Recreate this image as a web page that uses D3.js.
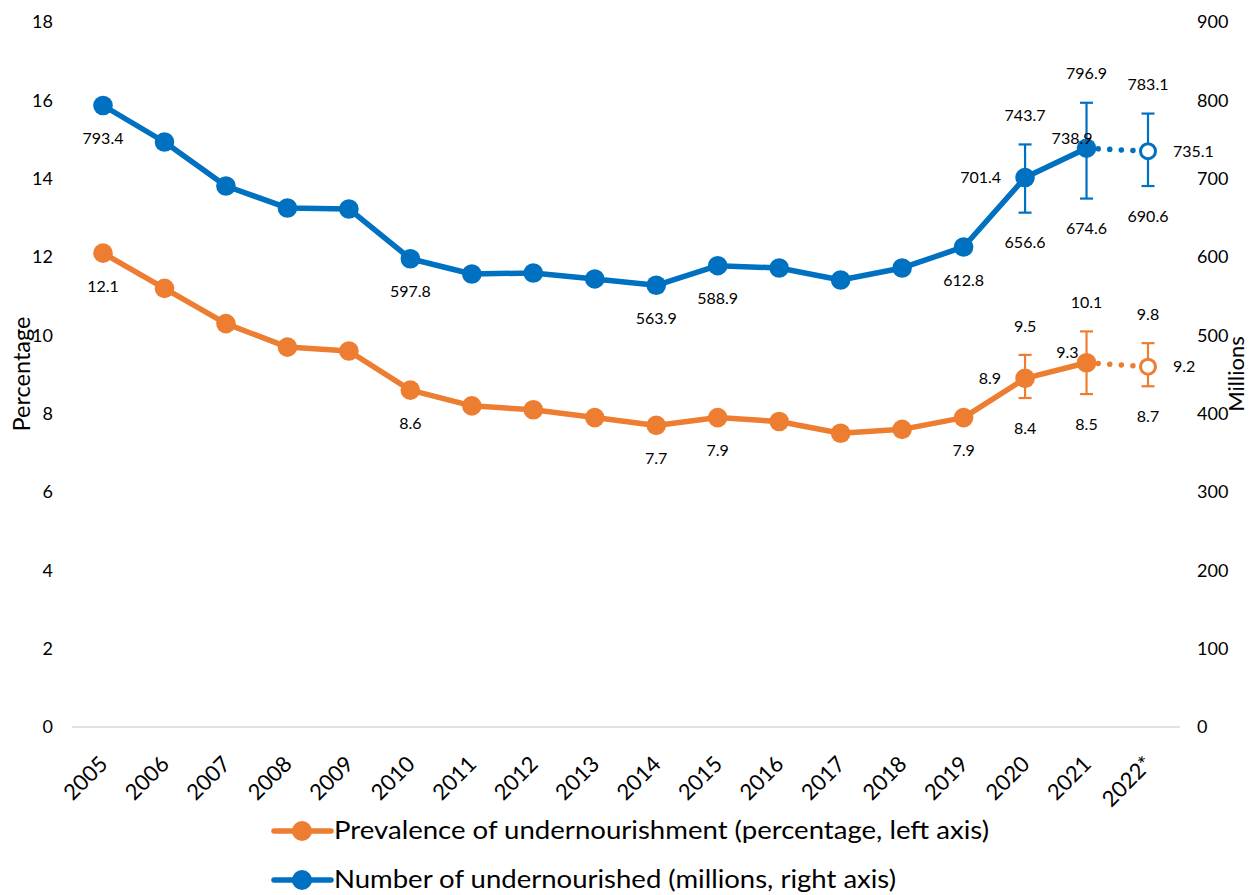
<!DOCTYPE html>
<html><head><meta charset="utf-8">
<script src="https://cdn.jsdelivr.net/npm/d3@7"></script>
<style>
html,body{margin:0;padding:0;background:#fff;}
svg{display:block;font-family:Lato,"Open Sans",sans-serif;}
</style></head>
<body><svg id="c" width="1249" height="895"></svg>
<script>
const years = ["2005","2006","2007","2008","2009","2010","2011","2012","2013","2014","2015","2016","2017","2018","2019","2020","2021","2022*"];
const prevalence = [12.1,11.2,10.3,9.7,9.6,8.6,8.2,8.1,7.9,7.7,7.9,7.8,7.5,7.6,7.9,8.9,9.3,9.2];
const prevalenceLow  = [null,null,null,null,null,null,null,null,null,null,null,null,null,null,null,8.4,8.5,8.7];
const prevalenceHigh = [null,null,null,null,null,null,null,null,null,null,null,null,null,null,null,9.5,10.1,9.8];
const number = [793.4,746.8,690.6,662.6,661.3,597.8,578.3,579.6,572.0,563.9,588.9,586.0,570.6,586.0,612.8,701.4,738.9,735.1];
const numberLow  = [null,null,null,null,null,null,null,null,null,null,null,null,null,null,null,656.6,674.6,690.6];
const numberHigh = [null,null,null,null,null,null,null,null,null,null,null,null,null,null,null,743.7,796.9,783.1];
const leftTicks = [0,2,4,6,8,10,12,14,16,18];
const rightTicks = [0,100,200,300,400,500,600,700,800,900];
// which points carry a value label and where
const prevLabelPos = {0:"below",5:"below",9:"below",10:"below",14:"below",15:"left",16:"aboveLeft",17:"right"};
const numLabelPos  = {0:"below",5:"below",9:"below",10:"below",14:"below",15:"left",16:"aboveLeftWide",17:"right"};
const legendItems = ["Prevalence of undernourishment (percentage, left axis)","Number of undernourished (millions, right axis)"];

const ORANGE="#ED7D31", BLUE="#0070C0";
const LBL=16;
const svg=d3.select("#c");
const x=d3.scalePoint().domain(years).range([103,1148]);
const yL=d3.scaleLinear().domain([0,18]).range([727,22]);
const yR=d3.scaleLinear().domain([0,900]).range([727,22]);

// baseline
svg.append("line").attr("x1",72).attr("x2",1180).attr("y1",yL(0)).attr("y2",yL(0))
  .attr("stroke","#d9d9d9").attr("stroke-width",1.5);

// axes
const axL=d3.axisLeft(yL).tickValues(leftTicks).tickSize(0).tickPadding(0);
const gL=svg.append("g").attr("transform","translate(53,0)").call(axL);
gL.select(".domain").remove();
gL.selectAll("text").attr("font-size",18).attr("fill","#000").attr("font-family","Lato,sans-serif");
const axR=d3.axisRight(yR).tickValues(rightTicks).tickSize(0).tickPadding(0);
const gR=svg.append("g").attr("transform","translate(1197,0)").call(axR);
gR.select(".domain").remove();
gR.selectAll("text").attr("font-size",18).attr("fill","#000").attr("font-family","Lato,sans-serif");

const axX=d3.axisBottom(x).tickSize(0).tickPadding(0);
const gX=svg.append("g").attr("transform","translate(0,760)").call(axX);
gX.select(".domain").remove();
gX.selectAll("text").attr("font-size",22).attr("fill","#000").attr("font-family","Lato,sans-serif")
  .attr("text-anchor","end").attr("dy","0.35em").attr("transform","rotate(-45)");

// axis titles
svg.append("text").attr("transform","translate(30,374) rotate(-90)").attr("text-anchor","middle")
  .attr("font-size",23.5).text("Percentage");
svg.append("text").attr("transform","translate(1244,374) rotate(-90)").attr("text-anchor","middle")
  .attr("font-size",22).text("Millions");

function drawSeries(vals,lo,hi,y,color,labelPos){
  const solid=vals.slice(0,17).map((v,i)=>[x(years[i]),y(v)]);
  svg.append("path").attr("d",d3.line()(solid)).attr("fill","none").attr("stroke",color)
    .attr("stroke-width",5.5).attr("stroke-linejoin","round");
  svg.append("path").attr("d",d3.line()([[x(years[16]),y(vals[16])],[x(years[17]),y(vals[17])]]))
    .attr("fill","none").attr("stroke",color).attr("stroke-width",5.5)
    .attr("stroke-linecap","round").attr("stroke-dasharray","0.1 11.5");
  // error bars
  vals.forEach((v,i)=>{
    if(lo[i]==null) return;
    const cx=x(years[i]);
    const g=svg.append("g").attr("stroke",color).attr("stroke-width",2.2);
    g.append("line").attr("x1",cx).attr("x2",cx).attr("y1",y(lo[i])).attr("y2",y(hi[i]));
    g.append("line").attr("x1",cx-6.5).attr("x2",cx+6.5).attr("y1",y(lo[i])).attr("y2",y(lo[i]));
    g.append("line").attr("x1",cx-6.5).attr("x2",cx+6.5).attr("y1",y(hi[i])).attr("y2",y(hi[i]));
    svg.append("text").attr("x",cx).attr("y",y(hi[i])-29).attr("text-anchor","middle").attr("dy","0.35em")
      .attr("font-size",LBL).text(hi[i].toFixed(1));
    svg.append("text").attr("x",cx).attr("y",y(lo[i])+30).attr("text-anchor","middle").attr("dy","0.35em")
      .attr("font-size",LBL).text(lo[i].toFixed(1));
  });
  vals.forEach((v,i)=>{
    const c=svg.append("circle").attr("cx",x(years[i])).attr("cy",y(v));
    if(i===17) c.attr("r",7.5).attr("fill","#fff").attr("stroke",color).attr("stroke-width",3);
    else c.attr("r",9.8).attr("fill",color);
  });
  Object.entries(labelPos).forEach(([k,pos])=>{
    const i=+k, cx=x(years[i]), cy=y(vals[i]);
    const t=svg.append("text").attr("font-size",LBL).attr("dy","0.35em").text(vals[i].toFixed(1));
    if(pos==="below") t.attr("x",cx).attr("y",cy+33).attr("text-anchor","middle");
    else if(pos==="left") t.attr("x",cx-24).attr("y",cy).attr("text-anchor","end");
    else if(pos==="aboveLeft") t.attr("x",cx-8).attr("y",cy-10).attr("text-anchor","end");
    else if(pos==="aboveLeftWide") t.attr("x",cx+6).attr("y",cy-10).attr("text-anchor","end");
    else if(pos==="right") t.attr("x",cx+25).attr("y",cy).attr("text-anchor","start");
  });
}
drawSeries(number,numberLow,numberHigh,yR,BLUE,numLabelPos);
drawSeries(prevalence,prevalenceLow,prevalenceHigh,yL,ORANGE,prevLabelPos);

// legend
[[ORANGE,831,655],[BLUE,880,562]].forEach(([col,ly,w],i)=>{
  svg.append("line").attr("x1",274).attr("x2",331).attr("y1",ly).attr("y2",ly)
    .attr("stroke",col).attr("stroke-width",5.5).attr("stroke-linecap","round");
  svg.append("circle").attr("cx",302).attr("cy",ly).attr("r",10).attr("fill",col);
  svg.append("text").attr("x",334).attr("y",ly).attr("dy","0.33em").attr("font-size",25.5)
    .attr("textLength",w).attr("lengthAdjust","spacingAndGlyphs").text(legendItems[i]);
});
</script></body></html>
